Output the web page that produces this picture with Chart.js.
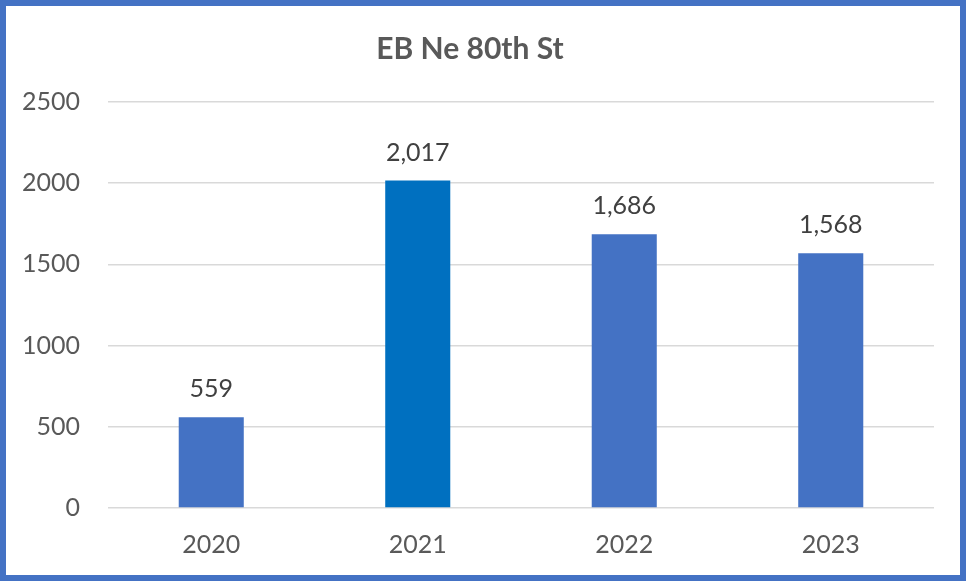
<!DOCTYPE html>
<html>
<head>
<meta charset="utf-8">
<script src="https://cdn.jsdelivr.net/npm/chart.js@4"></script>
<style>
  html, body { margin: 0; padding: 0; background: #fff; }
  #wrap { width: 966px; height: 581px; box-sizing: border-box; border: 6px solid #4472C4; background: #fff; }
  #chart { display: block; }
</style>
</head>
<body>
<div id="wrap"><canvas id="chart" width="954" height="569"></canvas></div>
<script>
const years = ['2020', '2021', '2022', '2023'];
const volumes = [559, 2017, 1686, 1568];
const barColors = ['#4472C4', '#0070C0', '#4472C4', '#4472C4'];
const yTicks = [0, 500, 1000, 1500, 2000, 2500];

const fontFamily = 'Lato, "Open Sans", sans-serif';

// draws the value above each bar
const valueLabels = {
  id: 'valueLabels',
  afterDatasetsDraw(chart) {
    const ctx = chart.ctx;
    const meta = chart.getDatasetMeta(0);
    ctx.save();
    ctx.font = '25px ' + fontFamily;
    ctx.fillStyle = '#404040';
    ctx.textAlign = 'center';
    ctx.textBaseline = 'middle';
    meta.data.forEach((bar, i) => {
      ctx.fillText(volumes[i].toLocaleString('en-US'), bar.x, bar.y - 28);
    });
    ctx.restore();
  }
};

new Chart(document.getElementById('chart'), {
  type: 'bar',
  data: {
    labels: years,
    datasets: [{
      data: volumes,
      backgroundColor: barColors,
      barPercentage: 0.315,
      categoryPercentage: 1
    }]
  },
  options: {
    responsive: false,
    animation: false,
    layout: { padding: { top: 0, right: 26, bottom: 15, left: 0 } },
    plugins: {
      legend: { display: false },
      tooltip: { enabled: false },
      title: {
        display: true,
        text: 'EB Ne 80th St',
        color: '#595959',
        font: { family: fontFamily, size: 30, weight: 'bold' },
        padding: { top: 25, bottom: 35 }
      }
    },
    scales: {
      x: {
        afterFit(scale) { scale.height = 52; },
        grid: { display: false, drawTicks: false },
        border: { display: false },
        ticks: { color: '#595959', font: { family: fontFamily, size: 25 }, padding: 22 }
      },
      y: {
        min: 0,
        max: yTicks[yTicks.length - 1],
        afterBuildTicks(scale) { scale.ticks = yTicks.map(v => ({ value: v })); },
        afterFit(scale) { scale.width = 102; },
        grid: { color: '#D9D9D9', lineWidth: 1.5, drawTicks: false },
        border: { display: false },
        ticks: {
          color: '#595959',
          font: { family: fontFamily, size: 25 },
          padding: 28,
          callback: v => String(v)
        }
      }
    }
  },
  plugins: [valueLabels]
});
</script>
</body>
</html>
